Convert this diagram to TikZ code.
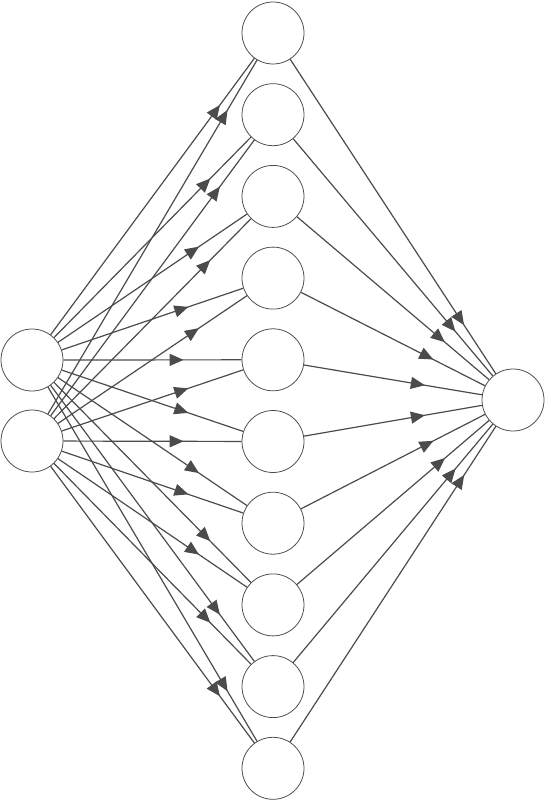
\documentclass[tikz,border=0pt]{standalone}
\usetikzlibrary{arrows.meta,decorations.markings}
\definecolor{wire}{RGB}{75,75,75}

\begin{document}
\begin{tikzpicture}[x=0.5mm,y=-0.5mm,
  neuron/.style={circle,draw=wire,line width=1.1pt,minimum size=31mm,inner sep=0pt,fill=white},
  conn/.style={wire,line width=1.7pt,postaction={decorate},
    decoration={markings,mark=at position -29mm with {\arrow{Triangle[length=7mm,width=6mm]}}}}]
\useasboundingbox (0,0) rectangle (546,802);
% layers
\node[neuron] (in1) at (32,360) {};
\node[neuron] (in2) at (32,441) {};
\foreach \i in {1,...,10}
  \node[neuron] (h\i) at (273,{33+81.7*(\i-1)}) {};
\node[neuron] (out) at (513,400) {};
% connections
\foreach \i in {1,...,10}{
  \draw[conn] (in1) -- (h\i); \draw[conn] (in2) -- (h\i);
  \draw[conn] (h\i) -- (out);}
\end{tikzpicture}
\end{document}
